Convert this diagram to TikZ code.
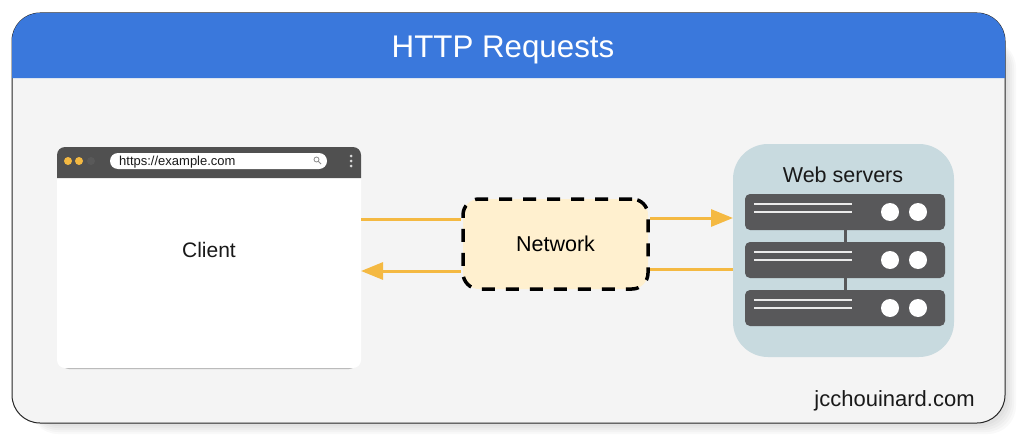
\documentclass[tikz,border=0pt]{standalone}
\usepackage{fontspec}
\setmainfont{Liberation Sans}
\usetikzlibrary{arrows.meta}
\definecolor{headblue}{HTML}{3A78DC}
\definecolor{cardgray}{HTML}{F4F4F4}
\definecolor{flowgold}{HTML}{F4B942}
\definecolor{netcream}{HTML}{FFF0CF}
\definecolor{rackblue}{HTML}{C8DADF}
\definecolor{rackdark}{HTML}{58585A}
\definecolor{bardark}{HTML}{505050}
\tikzset{
	box/.style={rectangle,inner sep=0pt,outer sep=0pt},
	flow/.style={draw=flowgold,line width=3pt},
	flowtip/.style={-{Triangle[length=22pt,width=17pt]}},
	serverbox/.style={box,fill=rackdark,minimum width=200pt,minimum height=36pt,rounded corners=5pt},
	lamp/.style={circle,fill=white,inner sep=0pt,minimum size=18pt},
	barline/.style={draw=black!8,line width=1.5pt},
	label/.style={inner sep=0pt,text=black!90}
}
\begin{document}
\begin{tikzpicture}[x=1pt,y=-1pt]
	\useasboundingbox (0,0) rectangle (1024,444);
	\fill[white] (0,0) rectangle (1024,444);

	% soft shadow of the card
	\foreach \d in {11,9,7,5,3} {
		\fill[black,opacity=0.025,rounded corners=28pt] (30,40) rectangle (1005+\d,423+\d);
	}

	% card and title bar
	\node[box,draw=black!85,line width=1pt,fill=cardgray,rounded corners=28pt,
		minimum width=993pt,minimum height=410pt] (card) at (508.5,218) {};
	\fill[headblue] (12,78) [rounded corners=28pt] -- (12,13) -- (1005,13) [sharp corners] -- (1005,78) -- cycle;
	\node[label,text=white,font=\fontsize{31.3}{36}\selectfont] (title) at (503,49.5) {HTTP Requests};

	% browser window
	\node[box,fill=black!30,rounded corners=8pt,minimum width=296pt,minimum height=221pt] (clientedge) at (209,258.5) {};
	\node[box,fill=white,rounded corners=8pt,minimum width=304pt,minimum height=221pt] (client) at (209,257.5) {};
	\fill[bardark] (57,178) [rounded corners=8pt] -- (57,147) -- (361,147) [sharp corners] -- (361,178) -- cycle;
	\foreach \x/\c in {68/flowgold, 79/flowgold, 91/black!65} {
		\node[circle,fill=\c,inner sep=0pt,minimum size=8pt] (dot\x) at (\x,161) {};
	}
	\node[box,fill=white,rounded corners=8pt,minimum width=217pt,minimum height=16pt] (urlbar) at (218.5,161) {};
	\node[label,anchor=west,font=\fontsize{13}{15}\selectfont] (url) at (119,162) {https://example.com};
	\draw[black!45,line width=0.8pt] (316.5,159.5) circle (2.5pt) (318.5,161.5) -- (321,164);
	\foreach \y in {156,161,166} {
		\node[circle,fill=black!15,inner sep=0pt,minimum size=3pt] (menu\y) at (351,\y) {};
	}
	\node[label,font=\fontsize{21}{25}\selectfont] (clienttext) at (209,250) {Client};

	% network and server rack
	\node[box,draw=black,line width=3.5pt,fill=netcream,rounded corners=16pt,
		dash pattern=on 13pt off 11pt,minimum width=185pt,minimum height=90pt,
		font=\fontsize{21.5}{25}\selectfont] (network) at (555.5,244) {Network};
	\node[box,fill=rackblue,rounded corners=35pt,minimum width=221pt,minimum height=213pt] (rack) at (843.5,250.5) {};
	\node[label,font=\fontsize{21.5}{25}\selectfont] (racktext) at (843,175) {Web servers};

	\foreach \n/\y in {1/212, 2/260, 3/308} {
		\node[serverbox] (server\n) at (845,\y) {};
		\node[lamp] (lampa\n) at (890,\y) {};
		\node[lamp] (lampb\n) at (918,\y) {};
		\draw[barline] (754,\y-8) -- (852,\y-8);
		\draw[barline] (754,\y) -- (852,\y);
	}
	\draw[rackdark,line width=3pt] (server1) -- (server2);
	\draw[rackdark,line width=3pt] (server2) -- (server3);

	% requests and responses
	\draw[flow] ([yshift=38.5pt]client.east) -- ([xshift=-2pt,yshift=25pt]network.west);
	\draw[flow,flowtip] ([xshift=2pt,yshift=26pt]network.east) -- ([xshift=0pt,yshift=32.5pt]rack.west);
	\draw[flow] ([yshift=-18.5pt]rack.west) -- ([xshift=2pt,yshift=-25pt]network.east);
	\draw[flow,flowtip] ([xshift=-2pt,yshift=-27pt]network.west) -- ([yshift=-13.5pt]client.east);

	\node[label,font=\fontsize{22}{26}\selectfont] (site) at (894.5,401) {jcchouinard.com};
\end{tikzpicture}
\end{document}
